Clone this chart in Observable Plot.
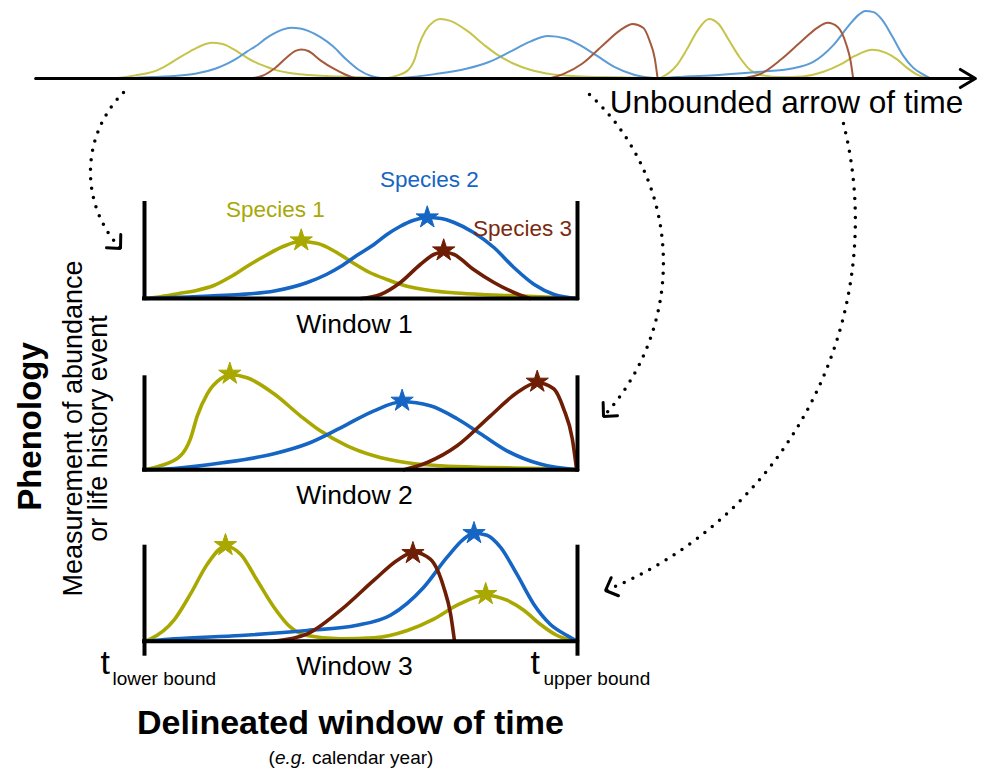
<!DOCTYPE html>
<html><head><meta charset="utf-8">
<script src="https://cdn.jsdelivr.net/npm/d3@7"></script>
<script src="https://cdn.jsdelivr.net/npm/@observablehq/plot@0.6"></script>
<style>
body{margin:0;background:#fff;}
#fig{position:relative;width:987px;height:772px;font-family:"Liberation Sans",Arial,Helvetica,sans-serif;color:#000;overflow:hidden;background:#fff}
.lbl{position:absolute;white-space:nowrap;line-height:1}
</style></head><body><div id="fig"></div>
<script>
// ---------- data (t = position inside the delineated window 0..1, h = measurement) ----------
const species = ["Species 1", "Species 2", "Species 3"];
const windows = ["Window 1", "Window 2", "Window 3"];
const colorsDark  = ["#a8a800", "#1565c4", "#6e1e04"];
const colorsLight = ["#c6c44a", "#5b9bd6", "#a55a3c"];
const labelColors = ["#a8a808", "#1565c4", "#7a2a10"];

const w1s1 = [[0,0],[0.04,2],[0.08,5],[0.12,8],[0.16,13],[0.20,22],[0.24,33],[0.28,43],[0.32,52],[0.36,57],[0.40,55],[0.44,47],[0.48,36],[0.52,26],[0.56,19],[0.60,13],[0.66,8],[0.72,5.5],[0.78,4],[0.84,3],[0.90,2],[0.95,1],[1,0]];
const w1s2 = [[0,0],[0.05,0.7],[0.10,1.5],[0.15,2.5],[0.22,4],[0.30,7.5],[0.376,16],[0.42,24],[0.453,32],[0.49,43],[0.53,54],[0.56,64],[0.59,72],[0.62,78],[0.653,81],[0.685,80],[0.715,76],[0.76,66],[0.807,51],[0.853,31],[0.90,14],[0.946,4],[1,0]];
const w1s3 = [[0.50,0],[0.545,4],[0.591,16],[0.637,34],[0.668,44],[0.69,46.5],[0.715,44],[0.76,29],[0.807,16],[0.853,6],[0.89,0]];

const w2s1 = [[0,0],[0.037,4],[0.083,14],[0.106,31],[0.122,54],[0.145,76],[0.176,91],[0.199,95],[0.237,92],[0.299,76],[0.36,54],[0.406,39],[0.468,24],[0.53,14],[0.607,7],[0.684,4],[0.80,2.3],[0.915,1.3],[1,0]];
const w2s2 = [[0,0],[0.068,1.3],[0.18,7],[0.299,16],[0.376,26],[0.453,42],[0.53,59],[0.595,68],[0.66,64],[0.722,51],[0.776,36],[0.837,19],[0.914,5.7],[1,0]];
const w2s3 = [[0.599,0],[0.653,7.3],[0.722,24],[0.799,54],[0.86,77],[0.907,87],[0.945,81],[0.968,61],[0.988,31],[0.998,0]];

const w3s1 = [[0,0],[0.014,2.3],[0.068,21],[0.106,47],[0.145,77],[0.187,95],[0.222,87],[0.26,61],[0.299,34],[0.337,14],[0.376,5.7],[0.453,2.3],[0.53,3.3],[0.607,10.7],[0.668,22],[0.722,36],[0.787,46],[0.837,41],[0.876,31],[0.914,17],[0.953,5.7],[1,0]];
const w3s2 = [[0,0],[0.068,2.3],[0.222,5.7],[0.376,10.7],[0.491,16],[0.568,26],[0.645,54],[0.699,84],[0.737,102],[0.76,108],[0.791,106],[0.822,94],[0.86,67],[0.899,37],[0.937,17],[0.976,5.7],[1,0]];
const w3s3 = [[0.299,0],[0.376,7.3],[0.453,31],[0.53,61],[0.584,81],[0.622,89],[0.66,82],[0.691,54],[0.707,27],[0.716,0]];

const curveTables = [
  {win:0, sp:0, pts:w1s1}, {win:0, sp:1, pts:w1s2}, {win:0, sp:2, pts:w1s3},
  {win:1, sp:0, pts:w2s1}, {win:1, sp:1, pts:w2s2}, {win:1, sp:2, pts:w2s3},
  {win:2, sp:0, pts:w3s1}, {win:2, sp:1, pts:w3s2}, {win:2, sp:2, pts:w3s3}
];

// peak (star) markers
const peaks = [
  {win:0, sp:0, t:0.362, h:58}, {win:0, sp:1, t:0.653, h:81}, {win:0, sp:2, t:0.691, h:48},
  {win:1, sp:0, t:0.197, h:96}, {win:1, sp:1, t:0.595, h:69}, {win:1, sp:2, t:0.907, h:88},
  {win:2, sp:0, t:0.187, h:96}, {win:2, sp:0, t:0.788, h:47}, {win:2, sp:1, t:0.761, h:108}, {win:2, sp:2, t:0.62, h:88}
];

// ---------- build ----------
const rows = [];
curveTables.forEach(({win, sp, pts}) => pts.forEach(([t, h]) => rows.push({win, sp, t, h, key: win * 3 + sp})));

const fig = document.getElementById("fig");
const FONT = '"Liberation Sans", Arial, Helvetica, sans-serif';
const base = () => ({
  width: 987, height: 772, margin: 0,
  style: {background: "transparent", overflow: "visible", position: "absolute", left: "0px", top: "0px", fontFamily: FONT, maxWidth: "none"}
});

// Unbounded arrow of time: windows laid end to end
const timeAxisSpan = {start: -0.286, end: 3.165};
const strip = Plot.plot({
  ...base(),
  x: {domain: [0, 3], range: [113, 930], axis: null},
  y: {domain: [0, 100], range: [78, 15.4], axis: null},
  marks: [
    ...species.map((s, i) => Plot.line(rows.filter(r => r.sp === i), {
      x: d => d.win + d.t, y: "h", z: "key", stroke: colorsLight[i], strokeWidth: 2, curve: "monotone-x"
    })),
    Plot.arrow([timeAxisSpan], {x1: "start", x2: "end", y1: 0, y2: 0, stroke: "#000", strokeWidth: 3, headLength: 8.8, headAngle: 62})
  ]
});
fig.appendChild(strip);

// Delineated windows
const baselines = [298, 469.3, 640.7];
const frameHeights = [95, 92, 94];
const speciesLabelSpots = [[0.3025, 82], [0.658, 111.5], [0.873, 63]];
windows.forEach((name, w) => {
  const b = baselines[w];
  const p = Plot.plot({
    ...base(),
    x: {domain: [0, 1], range: [144, 577], axis: null},
    y: {domain: [0, 100], range: [b, b - 100], axis: null},
    marks: [
      ...species.map((s, i) => Plot.line(rows.filter(r => r.win === w && r.sp === i), {
        x: "t", y: "h", stroke: colorsDark[i], strokeWidth: 3.6, curve: "monotone-x"
      })),
      Plot.ruleY([0], {x1: 0, x2: 1, stroke: "#000", strokeWidth: 4, strokeLinecap: "square"}),
      Plot.ruleX([0, 1], {y1: w === 2 ? -13 : 0, y2: frameHeights[w], stroke: "#000", strokeWidth: 4, strokeLinecap: "square"}),
      ...species.map((s, i) => Plot.dot(peaks.filter(d => d.win === w && d.sp === i), {
        x: "t", y: "h", symbol: "star", r: 7, fill: colorsDark[i], stroke: colorsDark[i], strokeWidth: 1
      })),
      Plot.text([name], {x: 0.485, y: -34, fontSize: 26.5, lineAnchor: "bottom", textAnchor: "middle", fill: "#000"}),
      ...(w === 0 ? species.map((s, i) => Plot.text([s], {
        x: speciesLabelSpots[i][0], y: speciesLabelSpots[i][1], fontSize: 22.5, lineAnchor: "bottom", textAnchor: "middle", fill: labelColors[i]
      })) : [])
    ]
  });
  fig.appendChild(p);
});

// Connectors and labels (page coordinates)
const connectors = [
  {x1: 123, y1: 92, x2: 120, y2: 248, bend: -44},
  {x1: 589, y1: 94, x2: 603, y2: 416, bend: 45},
  {x1: 843, y1: 123, x2: 605, y2: 590, bend: 41}
];
const overlay = Plot.plot({
  ...base(),
  x: {domain: [0, 987], range: [0, 987], axis: null},
  y: {domain: [0, 772], range: [0, 772], axis: null},
  marks: [
    ...connectors.map(c => Plot.arrow([c], {x1: "x1", y1: "y1", x2: "x2", y2: "y2", bend: c.bend, headLength: 0,
      stroke: "#000", strokeWidth: 3.5, strokeDasharray: "0 9.5", strokeLinecap: "round"})),
    ...connectors.map(c => Plot.arrow([c], {x1: "x1", y1: "y1", x2: "x2", y2: "y2", bend: c.bend, headLength: 7, headAngle: 88,
      stroke: "#000", strokeWidth: 3})),
    Plot.text(["Unbounded arrow of time"], {x: 786, y: 112, fontSize: 31.5, lineAnchor: "bottom", textAnchor: "middle", fill: "#000"}),
    Plot.text(["Phenology"], {x: 29.5, y: 426, rotate: -90, fontSize: 33, fontWeight: "bold", lineAnchor: "middle", textAnchor: "middle", fill: "#000"}),
    Plot.text(["Measurement of abundance"], {x: 81, y: 428, rotate: -90, fontSize: 27, lineAnchor: "bottom", textAnchor: "middle", fill: "#000"}),
    Plot.text(["or life history event"], {x: 106, y: 428, rotate: -90, fontSize: 27, lineAnchor: "bottom", textAnchor: "middle", fill: "#000"}),
    Plot.text(["t"], {x: 100, y: 673, fontSize: 34, lineAnchor: "bottom", textAnchor: "start", fill: "#000"}),
    Plot.text(["lower bound"], {x: 112, y: 684, fontSize: 19, lineAnchor: "bottom", textAnchor: "start", fill: "#000"}),
    Plot.text(["t"], {x: 530, y: 673, fontSize: 34, lineAnchor: "bottom", textAnchor: "start", fill: "#000"}),
    Plot.text(["upper bound"], {x: 543, y: 684, fontSize: 19, lineAnchor: "bottom", textAnchor: "start", fill: "#000"}),
    Plot.text(["Delineated window of time"], {x: 350, y: 733, fontSize: 34, fontWeight: "bold", lineAnchor: "bottom", textAnchor: "middle", fill: "#000"})
  ]
});
// keep only the solid arrowheads on the second set of arrows
overlay.querySelectorAll('g[aria-label="arrow"]').forEach(g => {
  if (g.getAttribute("stroke-dasharray")) return;
  g.querySelectorAll("path").forEach(p => {
    const d = p.getAttribute("d") || "";
    const k = d.indexOf("M", 1);
    if (k > 0) p.setAttribute("d", d.slice(k));
  });
});
fig.appendChild(overlay);

const cap = document.createElement("div");
cap.className = "lbl";
cap.style.cssText = `left:351px;top:${764 - 0.8465 * 19}px;font-size:19px;transform:translateX(-50%);`;
cap.innerHTML = "(<i>e.g.</i> calendar year)";
fig.appendChild(cap);
</script>
</body></html>
